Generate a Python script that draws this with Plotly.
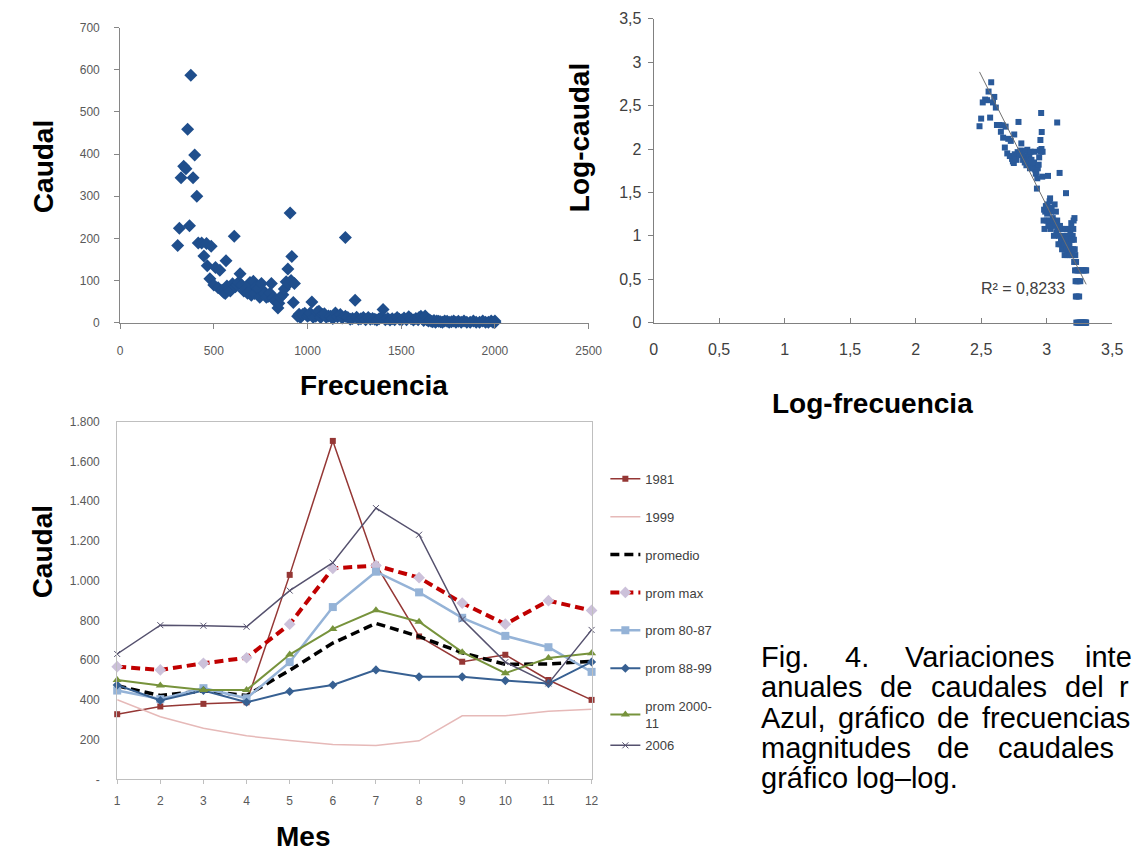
import numpy as np
import plotly.graph_objects as go

W, H = 1141, 857

# ---------------- Data: caudal vs frecuencia (top-left) ----------------
frecuencia = [
    307, 316, 325, 339, 351, 360, 370, 377, 389, 398, 409, 417, 435, 447, 461, 465, 479, 486, 500,
    509, 523, 532, 544, 552, 561, 565, 570, 580, 588, 600, 609, 615, 623, 632, 640, 649, 660, 672,
    680, 689, 693, 700, 711, 718, 725, 737, 745, 754, 765, 772, 780, 789, 800, 807, 816, 825, 833,
    842, 847, 855, 868, 876, 886, 895, 900, 907, 912, 916, 924, 930,
    947, 955, 962, 974, 985, 1000, 1008, 1014, 1023, 1030, 1044, 1052, 1061, 1070, 1079, 1090, 1100,
    1112, 1123, 1135, 1149, 1160, 1175, 1185, 1202, 1202, 1215, 1228, 1240, 1254, 1262, 1272, 1285,
    1298, 1310, 1324, 1335, 1347, 1359, 1370, 1382, 1394, 1403, 1415, 1428, 1440, 1452, 1465, 1478,
    1490, 1502, 1515, 1528, 1540, 1552, 1565, 1578, 1590,
    1595, 1605, 1612, 1620, 1628, 1636, 1645, 1652, 1660, 1668, 1675, 1683, 1690, 1700, 1710, 1720,
    1732, 1745, 1756, 1768, 1780, 1792, 1805, 1820, 1835, 1850, 1868, 1885, 1900, 1918, 1935, 1950,
    1965, 1980, 1990, 2000, 2000,
]
caudal = [
    183, 224, 344, 371, 365, 459, 230, 587, 344, 398, 300, 189, 189, 158, 188, 135, 104, 181, 89,
    131, 83, 124, 77, 72, 69, 147, 87, 80, 75, 92, 205, 85, 89, 96, 116, 89, 75, 81,
    70, 73, 95, 65, 98, 69, 85, 81, 60, 93, 75, 69, 60, 62, 70, 93, 58, 52, 54,
    35, 46, 60, 66, 80, 97, 127, 93, 260, 100, 157, 48, 93,
    15, 20, 12, 19, 22, 15, 18, 23, 49, 13, 15, 25, 27, 12, 19, 21, 13,
    16, 15, 10, 23, 14, 19, 11, 202, 15, 12, 8, 10, 53, 13, 8, 9,
    12, 7, 12, 8, 10, 8, 6, 9, 12, 31, 7, 10, 6, 9, 7, 12,
    8, 6, 11, 7, 14, 9, 6, 10, 7,
    12, 15, 9, 5, 16, 7, 4, 6, 3, 2, 5, 1, 4, 3, 2, 1,
    4, 3, 1, 2, 4, 1, 3, 1, 4, 1, 1, 4, 1, 1, 4, 1,
    1, 4, 1, 1, 4,
]
r2_texto = "R² = 0,8233"

# ---------------- Data: monthly flows (bottom) ----------------
meses = list(range(1, 13))
serie_1981 = [328, 367, 380, 388, 1029, 1703, 1080, 719, 592, 627, 500, 400]
serie_1999 = [401, 315, 257, 219, 196, 175, 171, 194, 320, 320, 343, 353]
promedio = [471, 422, 446, 422, 549, 686, 785, 719, 637, 579, 581, 594]
prom_max = [567, 551, 584, 612, 781, 1062, 1076, 1015, 887, 781, 899, 850]
prom_80_87 = [447, 404, 459, 408, 590, 867, 1045, 941, 813, 722, 665, 541]
prom_88_99 = [475, 397, 447, 388, 442, 475, 551, 516, 516, 497, 482, 591]
prom_2000_11 = [500, 472, 450, 450, 628, 757, 851, 793, 640, 534, 611, 635]
serie_2006 = [631, 776, 773, 768, 950, 1090, 1365, 1231, 805, 590, 483, 752]

tick_caudal_mes = [0, 200, 400, 600, 800, 1000, 1200, 1400, 1600, 1800]
tick_caudal_mes_txt = ["-", "200", "400", "600", "800", "1.000", "1.200", "1.400", "1.600", "1.800"]
tick_log = [0, 0.5, 1, 1.5, 2, 2.5, 3, 3.5]
tick_log_txt = ["0", "0,5", "1", "1,5", "2", "2,5", "3", "3,5"]

# derived log-log data and linear trend
log_frecuencia = np.log10(np.array(frecuencia, dtype=float))
log_caudal = np.log10(np.array(caudal, dtype=float))
pend, inter = np.polyfit(log_frecuencia, log_caudal, 1)
x_tr = np.array([log_frecuencia.min(), log_frecuencia.max()])
y_tr = inter + pend * x_tr


def px(v):
    return v / W


def py(v):
    return 1 - v / H


FONT = "Liberation Sans, Arial, sans-serif"
fig = go.Figure()

fig.add_trace(go.Scatter(
    x=frecuencia, y=caudal, mode="markers", xaxis="x", yaxis="y",
    marker=dict(symbol="diamond", size=10, color="#1F4E8C"),
    showlegend=False, cliponaxis=False))

fig.add_trace(go.Scatter(
    x=log_frecuencia, y=log_caudal, mode="markers", xaxis="x2", yaxis="y2",
    marker=dict(symbol="square", size=6, color="#2A5A9A"),
    showlegend=False, cliponaxis=False))
fig.add_trace(go.Scatter(
    x=x_tr, y=y_tr, mode="lines", xaxis="x2", yaxis="y2",
    line=dict(color="#707070", width=1), showlegend=False))

series = [
    ("1981", serie_1981, dict(color="#953735", width=1.5), dict(symbol="square", size=6, color="#953735"), "legend"),
    ("1999", serie_1999, dict(color="#E6B9B8", width=1.5), None, "legend"),
    ("promedio", promedio, dict(color="#000000", width=3.5, dash="9px,5px"), None, "legend"),
    ("prom max", prom_max, dict(color="#C00000", width=4, dash="9px,5px"), dict(symbol="diamond", size=9, color="#CCC1DA"), "legend"),
    ("prom 80-87", prom_80_87, dict(color="#95B3D7", width=2.5), dict(symbol="square", size=8, color="#95B3D7"), "legend"),
    ("prom 88-99", prom_88_99, dict(color="#376092", width=2), dict(symbol="diamond", size=7, color="#376092"), "legend"),
    ("prom 2000-<br>11", prom_2000_11, dict(color="#77933C", width=2), dict(symbol="triangle-up", size=8, color="#77933C"), "legend"),
    ("2006", serie_2006, dict(color="#55516E", width=1.5), dict(symbol="x-thin", size=6, line=dict(color="#55516E", width=1)), "legend2"),
]
for i, (name, vals, line, marker, leg) in enumerate(series):
    fig.add_trace(go.Scatter(
        x=meses, y=vals, name=name, xaxis="x3", yaxis="y3",
        mode="lines+markers" if marker else "lines",
        line=line, marker=marker if marker else None,
        legendgroup=f"g{i}", legend=leg, cliponaxis=False))

axis_common = dict(showgrid=False, zeroline=False, showline=True)
small = dict(family=FONT, size=12, color="#595959")

fig.update_layout(
    width=W, height=H, margin=dict(l=0, r=0, t=0, b=0),
    paper_bgcolor="white", plot_bgcolor="white",
    font=dict(family=FONT, color="#404040"),
    xaxis=dict(domain=[px(118), px(594)], range=[0, 2500], tickvals=[0, 500, 1000, 1500, 2000, 2500],
               linecolor="#868686", ticks="outside", ticklen=5, tickcolor="#868686",
               tickfont=small, ticklabelstandoff=12, anchor="y", **axis_common),
    yaxis=dict(domain=[py(321), py(20)], range=[0, 700], tickvals=list(range(0, 701, 100)),
               linecolor="#868686", ticks="outside", ticklen=5, tickcolor="#868686",
               tickfont=small, ticklabelstandoff=12, anchor="x", **axis_common),
    xaxis2=dict(domain=[px(660), px(1126)], range=[0, 3.5], tickvals=tick_log, ticktext=tick_log_txt,
                linecolor="#808080", ticks="inside", ticklen=5, tickcolor="#808080",
                tickfont=dict(size=16, color="#404040"), ticklabelstandoff=12, anchor="y2", **axis_common),
    yaxis2=dict(domain=[py(321), py(11)], range=[0, 3.5], tickvals=tick_log, ticktext=tick_log_txt,
                linecolor="#808080", ticks="outside", ticklen=5, tickcolor="#808080",
                tickfont=dict(size=16, color="#404040"), ticklabelstandoff=3, anchor="x2", **axis_common),
    xaxis3=dict(domain=[px(115), px(597)], range=[1, 12], tickvals=meses,
                linecolor="#BFBFBF", mirror=True, ticks="outside", ticklen=4, tickcolor="#BFBFBF",
                tickfont=small, ticklabelstandoff=6, anchor="y3", **axis_common),
    yaxis3=dict(domain=[py(787), py(422)], range=[0, 1800], tickvals=tick_caudal_mes, ticktext=tick_caudal_mes_txt,
                linecolor="#BFBFBF", mirror=True, ticks="", tickfont=small,
                ticklabelstandoff=14, anchor="x3", **axis_common),
    legend=dict(x=px(611), y=py(465), xanchor="left", yanchor="top", itemwidth=30,
                tracegroupgap=18, font=dict(size=13, color="#404040"), bgcolor="rgba(0,0,0,0)"),
    legend2=dict(x=px(611), y=py(737), xanchor="left", yanchor="top", itemwidth=30,
                 font=dict(size=13, color="#404040"), bgcolor="rgba(0,0,0,0)"),
)

annotations = []


def title(text, x, y, size=28, angle=0):
    annotations.append(dict(text=f"<b>{text}</b>", x=px(x), y=py(y), xref="paper", yref="paper",
                            showarrow=False, textangle=angle, xanchor="center", yanchor="middle",
                            font=dict(family=FONT, size=size, color="#000000")))


title("Caudal", 40, 162, angle=-90)
title("Frecuencia", 376, 385)
title("Log-caudal", 585, 132, angle=-90)
title("Log-frecuencia", 882, 403)
title("Caudal", 40, 555, angle=-90)
title("Mes", 304, 845)

annotations.append(dict(text=r2_texto, x=px(1035), y=py(286), xref="paper", yref="paper",
                        showarrow=False, xanchor="center", yanchor="middle",
                        font=dict(family=FONT, size=16, color="#404040")))

caption = [
    (662, [("Fig.", 767), ("4.", 852), ("Variaciones", 913), ("inte", 1096)]),
    (693, [("anuales", 767), ("de", 888), ("caudales", 940), ("del", 1076), ("r", 1131)]),
    (724, [("Azul,", 767), ("gráfico", 845), ("de", 946), ("frecuencias", 992)]),
    (755, [("magnitudes", 767), ("de", 946), ("caudales", 1008)]),
    (786, [("gráfico log–log.", 767)]),
]
for yline, words in caption:
    for word, xw in words:
        annotations.append(dict(text=word, x=px(xw), y=py(yline), xref="paper", yref="paper",
                                showarrow=False, xanchor="left", yanchor="middle",
                                font=dict(family=FONT, size=29, color="#000000")))

fig.update_layout(annotations=annotations)
fig.write_html("out.html")
